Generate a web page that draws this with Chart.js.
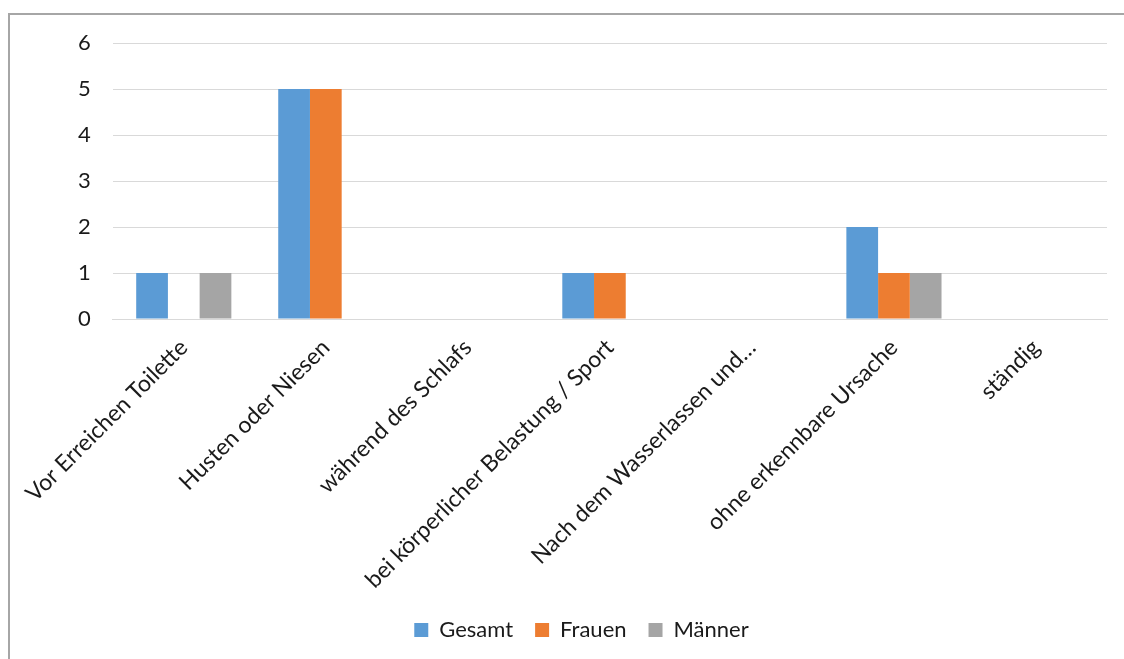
<!DOCTYPE html>
<html>
<head>
<meta charset="utf-8">
<script src="https://cdn.jsdelivr.net/npm/chart.js@4.4.1/dist/chart.umd.min.js"></script>
<style>
  html, body { margin: 0; padding: 0; background: #fff; overflow: hidden; }
  #frame {
    position: absolute; left: 8px; top: 13px;
    width: 1200px; height: 700px;
    border: 2px solid #a6a6a6;
  }
  #wrap { position: absolute; left: 0; top: 0; width: 1124px; height: 659px; }
</style>
</head>
<body>
<div id="frame"></div>
<div id="wrap"><canvas id="barChart"></canvas></div>
<script>
const CATEGORIES = [
  "Vor Erreichen Toilette",
  "Husten oder Niesen",
  "während des Schlafs",
  "bei körperlicher Belastung / Sport",
  "Nach dem Wasserlassen und…",
  "ohne erkennbare Ursache",
  "ständig"
];
const GESAMT = [1, 5, 0, 1, 0, 2, 0];
const FRAUEN = [0, 5, 0, 1, 0, 1, 0];
const MAENNER = [1, 0, 0, 0, 0, 1, 0];
const Y_TICKS = [0, 1, 2, 3, 4, 5, 6];

const FONT = "Lato, 'DejaVu Sans', sans-serif";
const TEXT = "#1a1a1a";

const CHART = document.getElementById("barChart");

let barChart = new Chart(CHART, {
    type: 'bar',
    data: {
        labels: CATEGORIES,
        datasets: [
            { label: "Gesamt", data: GESAMT, backgroundColor: "#5b9bd5" },
            { label: "Frauen", data: FRAUEN, backgroundColor: "#ed7d31" },
            { label: "Männer", data: MAENNER, backgroundColor: "#a5a5a5" }
        ]
    },
    options: {
        responsive: true,
        maintainAspectRatio: false,
        animation: false,
        categoryPercentage: 0.67,
        barPercentage: 1,
        layout: { padding: { left: 56, right: 17, top: 43, bottom: 8 } },
        plugins: {
            tooltip: { enabled: false },
            legend: {
                position: 'bottom',
                labels: {
                    font: { family: FONT, size: 22 },
                    color: TEXT,
                    boxWidth: 14,
                    boxHeight: 14,
                    padding: 22
                }
            }
        },
        scales: {
            x: {
                grid: { display: false, drawTicks: false },
                border: { color: "#d9d9d9" },
                afterFit: (scale) => { scale.height = 278; },
                ticks: {
                    font: { family: FONT, size: 23 },
                    color: TEXT,
                    minRotation: 45,
                    maxRotation: 45,
                    padding: 15
                }
            },
            y: {
                min: 0,
                max: 6,
                afterBuildTicks: (scale) => { scale.ticks = Y_TICKS.map(v => ({ value: v })); },
                grid: { color: "#d9d9d9", drawTicks: false },
                border: { display: false },
                ticks: {
                    font: { family: FONT, size: 22 },
                    color: TEXT,
                    padding: 22
                }
            }
        }
    }
});
</script>
</body>
</html>
